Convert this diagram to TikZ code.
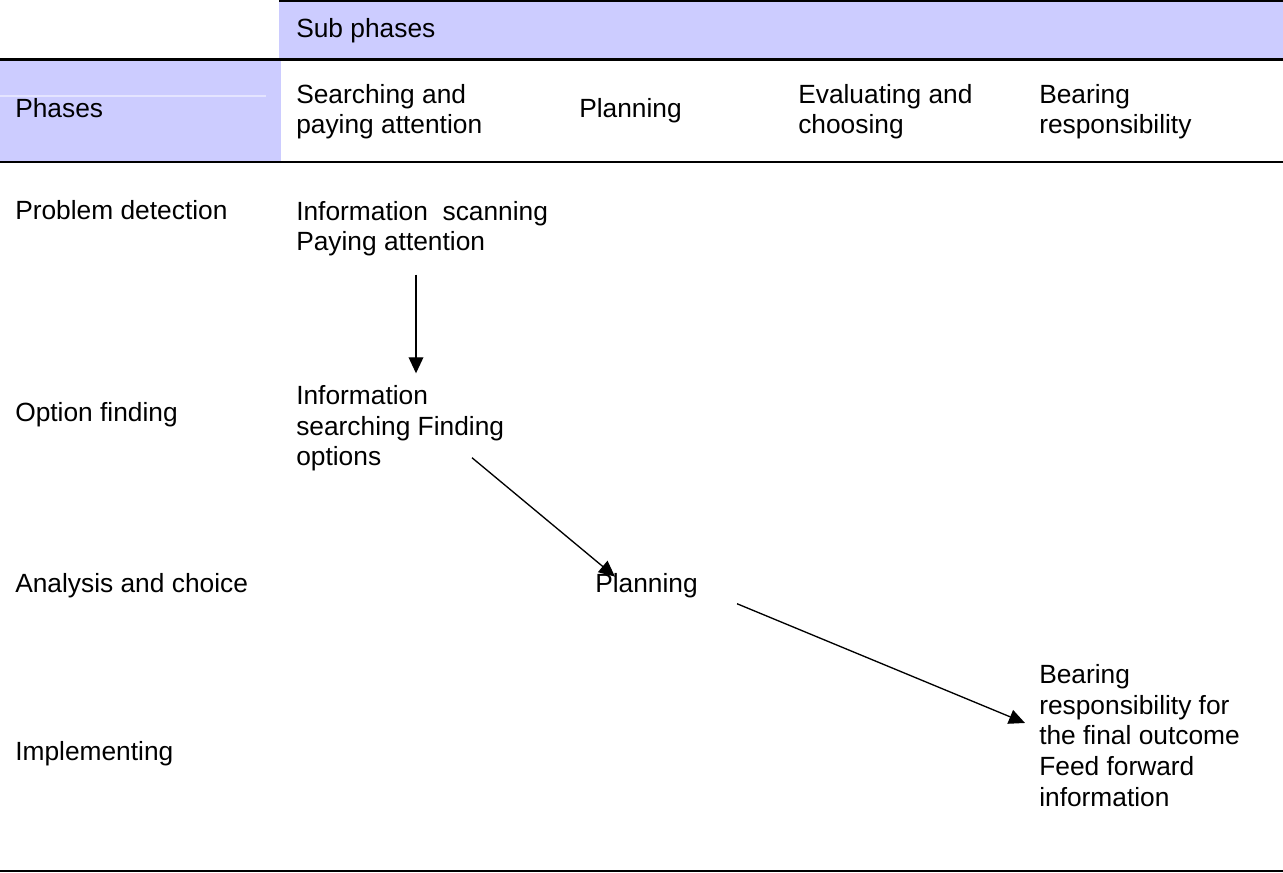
\documentclass[tikz,border=0pt]{standalone}
\usepackage{fontspec}
\setmainfont{Liberation Sans}
\usetikzlibrary{arrows.meta,calc}
\definecolor{band}{HTML}{CCCCFF}
\definecolor{bandline}{HTML}{E4E4FF}
\begin{document}
\begin{tikzpicture}[x=0.75pt,y=-0.75pt]
        \tikzstyle{txt} = [anchor=base west, inner sep=0pt, align=left, font=\fontsize{19.75}{23}\selectfont]
        \tikzstyle{rule} = [line width=1.9pt]
        \tikzstyle{link} = [line width=1pt, -{Triangle[length=12pt,width=11pt]}]

		\useasboundingbox (0,0) rectangle (1283,873);
		\fill[band] (279,2) rectangle (1283,58);
		\fill[band] (0,60) rectangle (281,161);
		\draw[bandline, line width=1pt] (0,96) -- (266,96);
		\draw[rule] (279,1) -- (1283,1);
		\draw[rule] (0,59.5) -- (1283,59.5);
		\draw[rule] (0,162) -- (1283,162);
		\draw[rule] (0,871) -- (1283,871);

		\node[txt] (subhdr) at (296,38) {Sub phases};
		\node[txt] (phasehdr) at (15,118) {Phases};
		\node[txt] (searchhdr) at (296,134) {Searching and\\paying attention};
		\node[txt] (planhdr) at (579,118) {Planning};
		\node[txt] (evalhdr) at (798,134) {Evaluating and\\choosing};
		\node[txt] (bearhdr) at (1039,134) {Bearing\\responsibility};

		\node[txt] (detect) at (15,220) {Problem detection};
		\node[txt] (option) at (15,422) {Option finding};
		\node[txt] (analysis) at (15,593) {Analysis and choice};
		\node[txt] (implement) at (15,760) {Implementing};

		\node[txt] (scan) at (296,251) {Information\ \ scanning\\Paying attention};
		\node[txt] (search) at (296,466) {Information\\searching Finding\\options};
		\node[txt] (plan) at (595,593) {Planning};
		\node[txt] (bear) at (1039,806) {Bearing\\responsibility for\\the final outcome\\Feed forward\\information};

		\draw[link] ($(scan.south west)+(120,18)$) -- ($(search.north west)+(120,-12)$);
		\draw[link] ($(search.south west)+(176,-14)$) -- ($(plan.north west)+(20,3)$);
		\draw[link] ($(plan.south east)+(39,5)$) -- ($(bear.north west)+(-14,59)$);

    \end{tikzpicture}
\end{document}
